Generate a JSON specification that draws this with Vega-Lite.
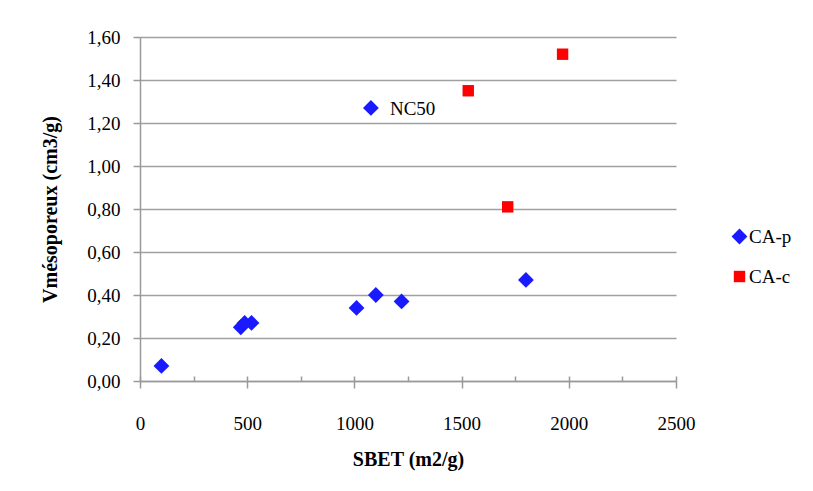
{
  "$schema": "https://vega.github.io/schema/vega-lite/v6.json",
  "autosize": "none",
  "width": 536,
  "height": 344,
  "padding": {"left": 140, "top": 37, "right": 137, "bottom": 110},
  "background": "white",
  "config": {
    "font": "Liberation Serif",
    "view": {"stroke": null},
    "axis": {
      "labelFont": "Liberation Serif",
      "titleFont": "Liberation Serif",
      "labelFontSize": 19,
      "titleFontSize": 20,
      "titleFontWeight": "bold",
      "labelColor": "#000000",
      "titleColor": "#000000",
      "domainColor": "#9a9a9a",
      "tickColor": "#9a9a9a",
      "gridColor": "#a0a0a0",
      "domainWidth": 1.5,
      "tickWidth": 1.5,
      "gridWidth": 1.5,
      "labelFlush": false,
      "labelOverlap": false
    }
  },
  "data": {
    "values": [
      {"sbet": 100, "v": 0.07, "serie": "CA-p", "label": ""},
      {"sbet": 470, "v": 0.25, "serie": "CA-p", "label": ""},
      {"sbet": 488, "v": 0.27, "serie": "CA-p", "label": ""},
      {"sbet": 520, "v": 0.27, "serie": "CA-p", "label": ""},
      {"sbet": 1010, "v": 0.34, "serie": "CA-p", "label": ""},
      {"sbet": 1100, "v": 0.40, "serie": "CA-p", "label": ""},
      {"sbet": 1220, "v": 0.37, "serie": "CA-p", "label": ""},
      {"sbet": 1800, "v": 0.47, "serie": "CA-p", "label": ""},
      {"sbet": 1077, "v": 1.27, "serie": "CA-p", "label": "NC50"},
      {"sbet": 1531, "v": 1.35, "serie": "CA-c", "label": ""},
      {"sbet": 1715, "v": 0.81, "serie": "CA-c", "label": ""},
      {"sbet": 1971, "v": 1.52, "serie": "CA-c", "label": ""}
    ]
  },
  "resolve": {"axis": {"x": "independent"}},
  "layer": [
    {
      "mark": {"type": "point", "filled": true, "opacity": 1, "strokeWidth": 0},
      "encoding": {
        "x": {
          "field": "sbet",
          "type": "quantitative",
          "scale": {"domain": [0, 2500], "nice": false, "zero": true},
          "axis": {
            "orient": "bottom",
            "title": "SBET (m2/g)",
            "values": [0, 500, 1000, 1500, 2000, 2500],
            "format": "d",
            "grid": false,
            "tickSize": 7,
            "labelPadding": 26,
            "titlePadding": 16
          }
        },
        "y": {
          "field": "v",
          "type": "quantitative",
          "scale": {"domain": [0, 1.6], "nice": false},
          "axis": {
            "title": "Vmésoporeux (cm3/g)",
            "values": [0, 0.2, 0.4, 0.6, 0.8, 1.0, 1.2, 1.4, 1.6],
            "labelExpr": "replace(format(datum.value, '.2f'), '.', ',')",
            "grid": true,
            "tickSize": 7,
            "labelPadding": 13,
            "titlePadding": 26
          }
        },
        "shape": {
          "field": "serie",
          "type": "nominal",
          "scale": {"domain": ["CA-p", "CA-c"], "range": ["diamond", "square"]}
        },
        "color": {
          "field": "serie",
          "type": "nominal",
          "scale": {"domain": ["CA-p", "CA-c"], "range": ["#1a1aff", "#ff0000"]},
          "legend": {
            "title": null,
            "orient": "none",
            "legendX": 590,
            "legendY": 190,
            "labelFont": "Liberation Serif",
            "labelFontSize": 19,
            "labelColor": "#000000",
            "rowPadding": 20,
            "labelOffset": 0
          }
        },
        "size": {
          "field": "serie",
          "type": "nominal",
          "scale": {"domain": ["CA-p", "CA-c"], "range": [250, 130]}
        }
      }
    },
    {
      "mark": {"type": "text", "align": "left", "baseline": "middle", "dx": 19, "dy": 1, "fontSize": 19, "font": "Liberation Serif", "color": "#000000"},
      "encoding": {
        "x": {
          "field": "sbet",
          "type": "quantitative",
          "scale": {"domain": [0, 2500], "nice": false, "zero": true},
          "axis": {
            "orient": "bottom",
            "title": null,
            "values": [0, 250, 500, 750, 1000, 1250, 1500, 1750, 2000, 2250, 2500],
            "labels": false,
            "domain": false,
            "grid": false,
            "tickSize": -5
          }
        },
        "y": {"field": "v", "type": "quantitative"},
        "text": {"field": "label"}
      }
    }
  ]
}
